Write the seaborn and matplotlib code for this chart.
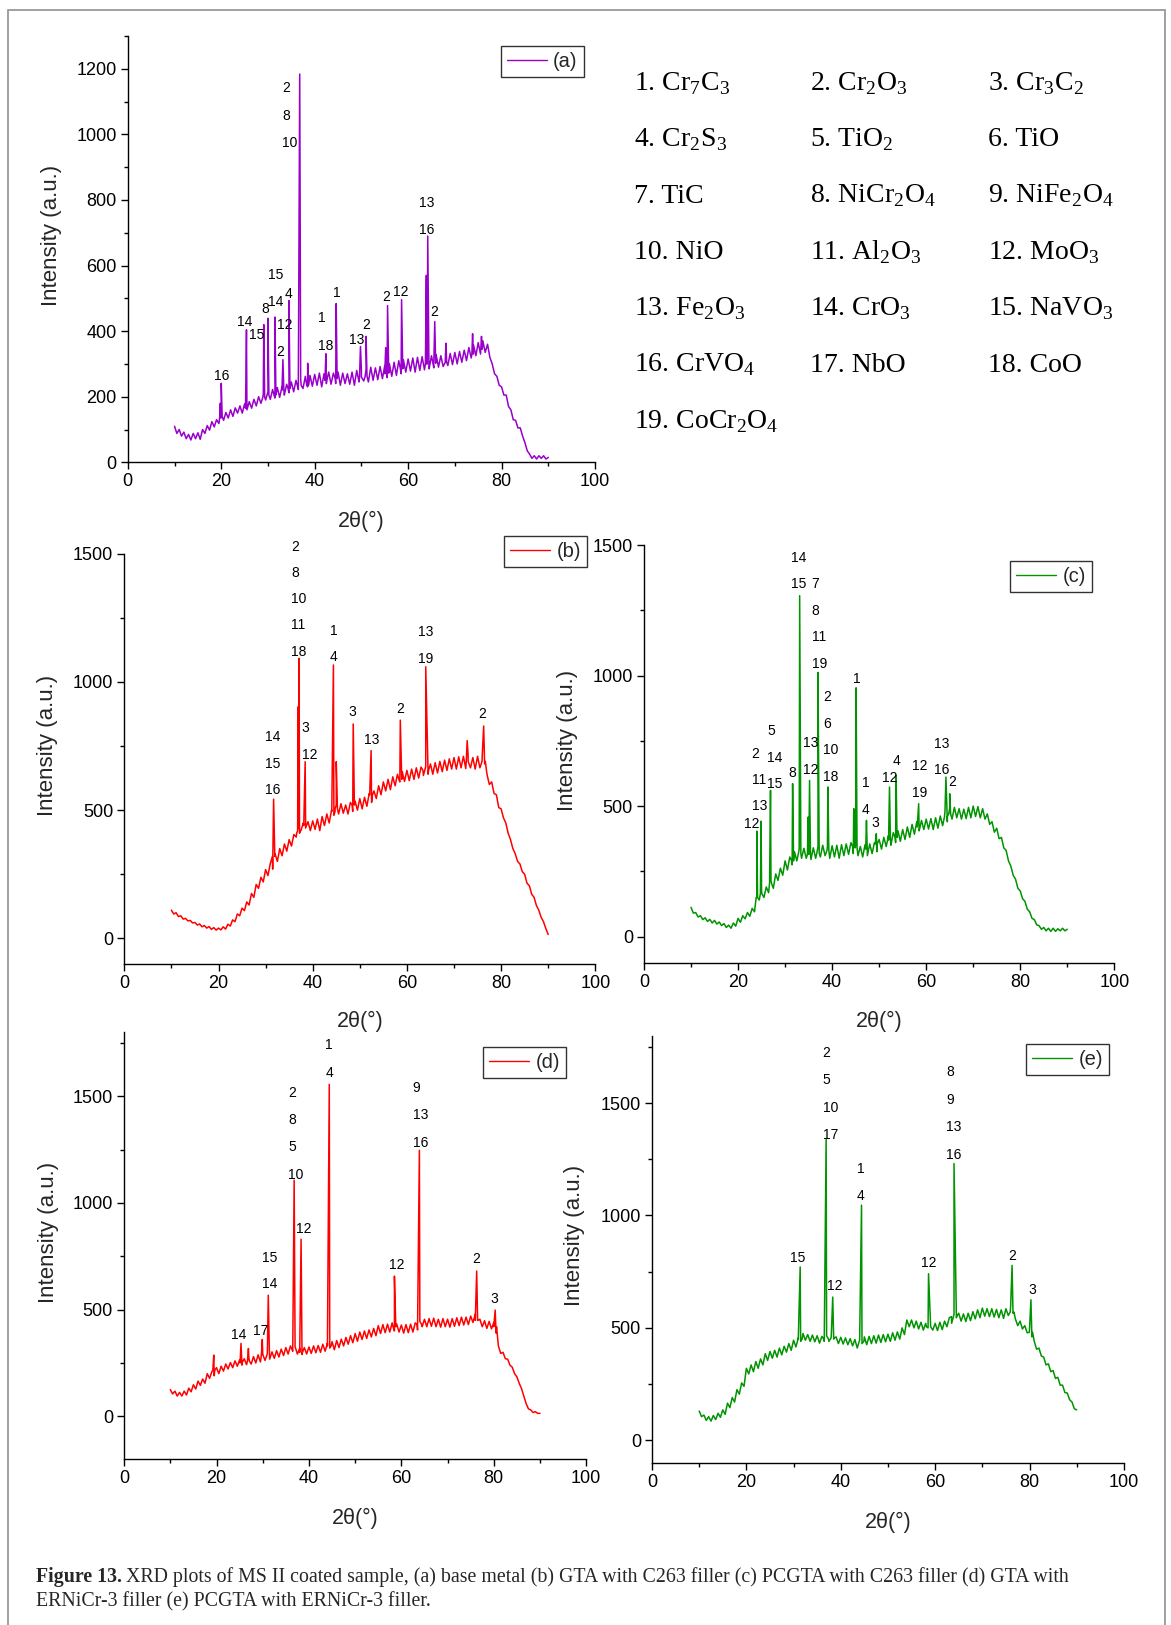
import numpy as np
import pandas as pd
import matplotlib
matplotlib.use("Agg")
import matplotlib.pyplot as plt
from matplotlib.ticker import MultipleLocator
from matplotlib.patches import Rectangle
import seaborn as sns

# ---------------- settings ----------------
sns.set_theme(style="ticks")
plt.rcParams['font.family'] = ['Liberation Sans', 'DejaVu Sans']
plt.rcParams['mathtext.fontset'] = 'custom'
plt.rcParams['mathtext.rm'] = 'Liberation Serif'
plt.rcParams['axes.edgecolor'] = 'black'
plt.rcParams['xtick.color'] = 'black'
plt.rcParams['ytick.color'] = 'black'

W, H = 1171, 1625

# ---------------- data ----------------
# 2theta grid of the measured background (step 0.5 deg)
two_theta = np.arange(10.0, 90.01, 0.5)

bg_a = [110, 88, 100, 80, 92, 72, 85, 68, 88, 72, 90, 70, 100, 88, 112, 98, 124, 108, 130, 118,
        150, 128, 152, 135, 160, 140, 166, 150, 172, 150, 178, 160, 185, 165, 192, 172, 200, 180, 208, 190,
        215, 192, 222, 196, 228, 198, 230, 205, 238, 212, 245, 215, 250, 222, 255, 225, 262, 230, 265, 232,
        268, 235, 272, 230, 270, 240, 275, 238, 272, 240, 275, 235, 272, 240, 270, 238, 275, 235, 280, 245,
        282, 248, 285, 245, 290, 250, 288, 252, 292, 255, 295, 258, 300, 262, 305, 265, 310, 270, 312, 275,
        315, 278, 318, 275, 320, 280, 322, 282, 320, 285, 325, 288, 328, 290, 325, 292, 330, 295, 332, 298,
        335, 300, 338, 305, 342, 310, 350, 318, 358, 325, 365, 330, 370, 335, 360, 320, 300, 270, 262, 235,
        230, 205, 205, 170, 160, 130, 128, 105, 105, 80, 60, 35, 25, 12, 20, 10, 20, 12, 20, 10, 15]
bg_b = [110, 95, 100, 85, 88, 75, 78, 68, 70, 60, 62, 52, 56, 45, 50, 40, 46, 35, 42, 32,
        40, 33, 45, 36, 55, 48, 72, 65, 95, 88, 118, 108, 142, 130, 175, 160, 210, 195, 238, 220,
        268, 245, 292, 270, 330, 300, 350, 322, 368, 340, 385, 360, 405, 395, 430, 420, 450, 430, 455, 420,
        458, 425, 465, 420, 475, 440, 485, 450, 500, 480, 520, 485, 525, 488, 520, 485, 530, 495, 535, 500,
        545, 505, 550, 515, 565, 530, 575, 545, 595, 560, 610, 575, 620, 580, 630, 595, 640, 610, 650, 612,
        655, 615, 660, 620, 665, 625, 668, 635, 670, 640, 680, 640, 685, 645, 690, 650, 695, 655, 700, 660,
        705, 660, 708, 665, 710, 662, 712, 665, 705, 660, 710, 665, 715, 680, 640, 600, 610, 565, 560, 510,
        505, 470, 450, 410, 385, 350, 330, 300, 290, 260, 250, 215, 205, 172, 160, 128, 110, 82, 65, 38, 15]
bg_c = [112, 90, 92, 75, 80, 65, 72, 58, 66, 52, 62, 48, 56, 42, 50, 35, 44, 32, 52, 40,
        70, 55, 80, 68, 92, 78, 108, 95, 150, 140, 175, 150, 190, 168, 215, 185, 240, 215, 262, 235,
        290, 255, 305, 275, 325, 290, 335, 300, 338, 300, 335, 295, 340, 300, 345, 305, 350, 310, 345, 300,
        348, 305, 350, 300, 352, 310, 355, 315, 360, 318, 350, 310, 345, 305, 352, 310, 355, 318, 360, 325,
        372, 335, 380, 345, 388, 350, 398, 360, 405, 365, 410, 372, 420, 380, 430, 392, 440, 405, 445, 410,
        450, 412, 452, 410, 455, 415, 462, 425, 480, 440, 492, 450, 495, 455, 490, 450, 488, 452, 495, 455,
        500, 460, 498, 455, 490, 450, 470, 430, 440, 400, 415, 375, 380, 340, 330, 290, 270, 235, 220, 185,
        175, 145, 135, 105, 95, 70, 65, 45, 42, 28, 35, 22, 32, 20, 32, 20, 30, 22, 32, 22, 28]
bg_d = [125, 105, 118, 95, 112, 95, 118, 100, 132, 115, 148, 128, 165, 145, 175, 155, 200, 178, 210, 190,
        228, 200, 235, 212, 245, 222, 252, 228, 260, 235, 265, 240, 270, 242, 275, 245, 280, 250, 288, 255,
        292, 262, 298, 268, 302, 272, 308, 278, 315, 285, 322, 292, 330, 305, 325, 292, 318, 290, 322, 292,
        325, 295, 330, 298, 332, 300, 338, 305, 342, 320, 350, 312, 355, 322, 362, 330, 370, 338, 378, 345,
        388, 352, 395, 360, 400, 365, 405, 372, 412, 378, 425, 388, 430, 392, 432, 395, 438, 400, 432, 395,
        428, 390, 430, 392, 432, 395, 438, 405, 445, 420, 455, 420, 458, 422, 460, 420, 455, 418, 458, 420,
        455, 418, 458, 422, 462, 425, 465, 428, 465, 430, 470, 440, 480, 450, 455, 420, 448, 412, 445, 410,
        440, 390, 330, 295, 300, 270, 268, 240, 230, 200, 185, 155, 130, 95, 60, 35, 30, 18, 22, 14, 14]
bg_e = [130, 105, 112, 88, 105, 85, 110, 92, 120, 102, 135, 115, 165, 145, 190, 170, 225, 205, 255, 240,
        320, 295, 335, 305, 350, 320, 362, 335, 385, 355, 395, 365, 400, 370, 410, 380, 418, 392, 430, 400,
        445, 415, 455, 440, 475, 445, 470, 440, 468, 438, 465, 432, 462, 440, 465, 440, 470, 450, 460, 430,
        458, 428, 455, 425, 452, 420, 448, 410, 445, 430, 460, 425, 462, 430, 465, 432, 468, 435, 470, 438,
        472, 440, 478, 445, 482, 450, 500, 470, 535, 505, 535, 500, 530, 495, 525, 490, 520, 500, 530, 490,
        520, 488, 525, 492, 530, 505, 545, 520, 560, 545, 565, 530, 562, 528, 565, 532, 572, 540, 580, 545,
        588, 552, 585, 550, 585, 548, 582, 545, 580, 542, 585, 555, 595, 565, 540, 510, 530, 495, 510, 478,
        495, 460, 440, 405, 410, 375, 370, 335, 340, 305, 310, 275, 280, 245, 245, 212, 210, 180, 170, 140, 135]

# peaks: position (deg), top intensity, base intensity, half width (deg)
pk_a_pos = [19.8, 20.0, 25.4, 29.1, 30.0, 31.5, 33.2, 34.5, 36.8, 38.5, 42.4, 44.6, 49.8, 51.0, 55.2, 55.6,
            58.6, 63.9, 64.2, 65.7, 68.1, 73.8, 75.7]
pk_a_top = [180, 241, 404, 420, 439, 443, 313, 493, 1184, 302, 331, 484, 353, 384, 350, 478,
            496, 570, 690, 429, 363, 392, 384]
pk_a_base = [135, 140, 165, 198, 205, 205, 220, 225, 235, 235, 250, 255, 260, 262, 270, 272,
             285, 300, 300, 302, 305, 330, 345]
pk_a_w = [0.15, 0.2, 0.2, 0.2, 0.2, 0.2, 0.2, 0.2, 0.3, 0.2, 0.2, 0.2, 0.2, 0.2, 0.2, 0.25,
          0.25, 0.2, 0.25, 0.2, 0.15, 0.15, 0.15]

pk_b_pos = [31.7, 36.9, 37.1, 38.4, 44.4, 45.0, 48.6, 52.4, 58.6, 64.0, 72.8, 76.3]
pk_b_top = [543, 903, 1092, 689, 1066, 689, 836, 732, 851, 1059, 771, 828]
pk_b_base = [320, 410, 420, 440, 495, 505, 520, 560, 620, 655, 690, 690]
pk_b_w = [0.25, 0.3, 0.3, 0.3, 0.35, 0.25, 0.25, 0.3, 0.3, 0.6, 0.2, 0.35]

pk_c_pos = [24.0, 24.9, 26.9, 31.6, 33.1, 34.9, 35.2, 37.0, 39.1, 44.6, 45.1, 47.3, 49.4, 52.2, 53.6,
            58.4, 64.2, 65.0]
pk_c_top = [404, 442, 560, 586, 1306, 458, 598, 1012, 573, 490, 953, 445, 394, 573, 618,
            509, 611, 547]
pk_c_base = [150, 165, 205, 290, 320, 315, 317, 320, 330, 343, 340, 335, 355, 370, 380,
             420, 460, 470]
pk_c_w = [0.15, 0.15, 0.2, 0.2, 0.25, 0.15, 0.2, 0.25, 0.2, 0.2, 0.2, 0.15, 0.2, 0.2, 0.2,
          0.3, 0.3, 0.2]

pk_d_pos = [19.4, 25.3, 26.9, 29.9, 31.2, 36.8, 38.3, 44.4, 58.5, 63.9, 76.3, 80.3]
pk_d_top = [287, 342, 318, 360, 568, 1107, 830, 1556, 657, 1247, 681, 498]
pk_d_base = [215, 250, 260, 285, 290, 320, 300, 330, 420, 430, 450, 420]
pk_d_w = [0.2, 0.2, 0.2, 0.2, 0.25, 0.3, 0.3, 0.4, 0.3, 0.5, 0.3, 0.3]

pk_e_pos = [31.4, 36.9, 38.3, 44.4, 58.6, 64.0, 76.3, 80.3]
pk_e_top = [771, 1343, 637, 1046, 741, 1231, 778, 625]
pk_e_base = [450, 450, 455, 440, 505, 550, 570, 480]
pk_e_w = [0.4, 0.5, 0.35, 0.5, 0.45, 0.55, 0.4, 0.35]

# phase number labels: x (deg), y (intensity), text
lab_a_x = [20.0, 25.0, 27.6, 29.4, 31.7, 31.7, 34.5, 33.6, 32.7, 33.9, 33.9, 34.6, 41.5, 42.4, 44.7,
           49.0, 51.0, 55.4, 58.5, 64.0, 64.0, 65.6]
lab_a_y = [262, 427, 387, 466, 488, 570, 513, 418, 335, 1140, 1056, 973, 439, 356, 516,
           374, 419, 504, 520, 790, 707, 457]
lab_a_txt = ["16", "14", "15", "8", "14", "15", "4", "12", "2", "2", "8", "10", "1", "18", "1",
             "13", "2", "2", "12", "13", "16", "2"]

lab_b_x = [31.6, 31.6, 31.6, 36.2, 36.2, 37.0, 37.0, 37.0, 38.5, 39.4, 44.5, 44.5, 48.5, 52.6, 58.6,
           63.9, 63.9, 75.9]
lab_b_y = [785, 681, 578, 1527, 1426, 1323, 1222, 1118, 820, 716, 1200, 1097, 881, 772, 893,
           1193, 1091, 873]
lab_b_txt = ["14", "15", "16", "2", "8", "10", "11", "18", "3", "12", "1", "4", "3", "13", "2",
             "13", "19", "2"]

lab_c_x = [23.0, 24.5, 24.5, 23.6, 27.8, 27.8, 27.0, 31.6, 32.8, 32.8, 36.4, 36.4, 37.3, 37.3, 35.5,
           35.5, 38.9, 38.9, 39.7, 39.7, 45.2, 47.2, 47.2, 49.1, 52.2, 53.6, 58.6, 58.6, 63.4, 63.4, 65.6]
lab_c_y = [432, 499, 601, 701, 583, 685, 788, 628, 1350, 1451, 1350, 1248, 1146, 1043, 742,
           639, 918, 816, 714, 611, 988, 588, 486, 435, 609, 673, 652, 550, 737, 637, 591]
lab_c_txt = ["12", "13", "11", "2", "15", "14", "5", "8", "15", "14", "7", "8", "11", "19", "13",
             "12", "2", "6", "10", "18", "1", "1", "4", "3", "12", "4", "12", "19", "13", "16", "2"]

lab_d_x = [24.8, 29.6, 31.4, 31.4, 36.3, 36.3, 36.3, 37.1, 38.8, 44.4, 44.4, 59.0, 63.3, 64.1, 64.1,
           76.2, 80.2]
lab_d_y = [381, 401, 618, 744, 1516, 1388, 1261, 1133, 876, 1739, 1609, 707, 1539, 1411, 1283,
           737, 551]
lab_d_txt = ["14", "17", "14", "15", "2", "8", "5", "10", "12", "1", "4", "12", "9", "13", "16",
             "2", "3"]

lab_e_x = [30.8, 37.0, 37.0, 37.8, 37.8, 38.8, 44.2, 44.2, 58.6, 63.2, 63.2, 64.0, 64.0, 76.4, 80.5]
lab_e_y = [812, 1724, 1601, 1479, 1357, 688, 1207, 1086, 789, 1637, 1516, 1395, 1271, 821, 667]
lab_e_txt = ["15", "2", "5", "10", "17", "12", "1", "4", "12", "8", "9", "13", "16", "2", "3"]

compounds = [
    "1. Cr$_\\mathrm{7}$C$_\\mathrm{3}$", "2. Cr$_\\mathrm{2}$O$_\\mathrm{3}$", "3. Cr$_\\mathrm{3}$C$_\\mathrm{2}$",
    "4. Cr$_\\mathrm{2}$S$_\\mathrm{3}$", "5. TiO$_\\mathrm{2}$", "6. TiO",
    "7. TiC", "8. NiCr$_\\mathrm{2}$O$_\\mathrm{4}$", "9. NiFe$_\\mathrm{2}$O$_\\mathrm{4}$",
    "10. NiO", "11. Al$_\\mathrm{2}$O$_\\mathrm{3}$", "12. MoO$_\\mathrm{3}$",
    "13. Fe$_\\mathrm{2}$O$_\\mathrm{3}$", "14. CrO$_\\mathrm{3}$", "15. NaVO$_\\mathrm{3}$",
    "16. CrVO$_\\mathrm{4}$", "17. NbO", "18. CoO",
    "19. CoCr$_\\mathrm{2}$O$_\\mathrm{4}$",
]

# ---------------- panel layout (pixels: left, top, right, bottom) ----------------
panels = [
    dict(name="(a)", bg=bg_a, pos=pk_a_pos, top=pk_a_top, base=pk_a_base, w=pk_a_w,
         lx=lab_a_x, ly=lab_a_y, lt=lab_a_txt, color="#9900CC",
         box=(127.8, 36, 595, 462.3), ylim=(0, 1300), ymaj=200, ymin=100, leg=(0.976, 0.977)),
    dict(name="(b)", bg=bg_b, pos=pk_b_pos, top=pk_b_top, base=pk_b_base, w=pk_b_w,
         lx=lab_b_x, ly=lab_b_y, lt=lab_b_txt, color="#FF0000",
         box=(124.3, 553.7, 595.3, 964), ylim=(-100, 1500), ymaj=500, ymin=250, leg=(0.982, 1.043)),
    dict(name="(c)", bg=bg_c, pos=pk_c_pos, top=pk_c_top, base=pk_c_base, w=pk_c_w,
         lx=lab_c_x, ly=lab_c_y, lt=lab_c_txt, color="#009400",
         box=(644, 545, 1114.3, 962.7), ylim=(-100, 1500), ymaj=500, ymin=250, leg=(0.952, 0.962)),
    dict(name="(d)", bg=bg_d, pos=pk_d_pos, top=pk_d_top, base=pk_d_base, w=pk_d_w,
         lx=lab_d_x, ly=lab_d_y, lt=lab_d_txt, color="#FF0000",
         box=(124.1, 1032.3, 586.2, 1459), ylim=(-200, 1800), ymaj=500, ymin=250, leg=(0.956, 0.9655)),
    dict(name="(e)", bg=bg_e, pos=pk_e_pos, top=pk_e_top, base=pk_e_base, w=pk_e_w,
         lx=lab_e_x, ly=lab_e_y, lt=lab_e_txt, color="#009400",
         box=(652, 1035.7, 1123.9, 1462.7), ylim=(-100, 1800), ymaj=500, ymin=250, leg=(0.968, 0.9806)),
]


def px_rect(l, t, r, b):
    return [l / W, 1 - b / H, (r - l) / W, (b - t) / H]


def build_pattern(bg, pos, top, base, w):
    xs = list(two_theta)
    ys = list(bg)
    for p, t, b, hw in zip(pos, top, base, w):
        xs += [p - hw, p, p + hw]
        ys += [b, t, b]
    df = pd.DataFrame({"two_theta": xs, "intensity": ys})
    return df.sort_values("two_theta", kind="stable").reset_index(drop=True)


fig = plt.figure(figsize=(W / 100, H / 100), dpi=100)

for pnl in panels:
    ax = fig.add_axes(px_rect(*pnl["box"]))
    df = build_pattern(pnl["bg"], pnl["pos"], pnl["top"], pnl["base"], pnl["w"])
    sns.lineplot(data=df, x="two_theta", y="intensity", sort=False, estimator=None,
                 color=pnl["color"], lw=1.1, ax=ax, label=pnl["name"])

    for x, y, s in zip(pnl["lx"], pnl["ly"], pnl["lt"]):
        ax.text(x, y, s, ha="center", va="center", fontsize=10, color="black", clip_on=False)

    ax.set_xlim(0, 100)
    ax.set_ylim(*pnl["ylim"])
    ax.xaxis.set_major_locator(MultipleLocator(20))
    ax.xaxis.set_minor_locator(MultipleLocator(10))
    ax.yaxis.set_major_locator(MultipleLocator(pnl["ymaj"]))
    ax.yaxis.set_minor_locator(MultipleLocator(pnl["ymin"]))
    ax.tick_params(which="major", direction="out", length=5, width=1, labelsize=13, pad=3)
    ax.tick_params(which="minor", direction="out", length=3, width=1)
    for side in ["top", "right"]:
        ax.spines[side].set_visible(False)
    for side in ["left", "bottom"]:
        ax.spines[side].set_linewidth(1)
        ax.spines[side].set_color("black")

    ax.set_xlabel("2θ(°)", fontsize=15.5)
    ax.set_ylabel("Intensity (a.u.)", fontsize=16)
    ax.xaxis.set_label_coords(0.5, -0.115)
    ax.yaxis.set_label_coords(-0.141, 0.532)

    leg = ax.legend(loc="upper right", bbox_to_anchor=pnl["leg"], borderaxespad=0,
                    fontsize=14.5, frameon=True, fancybox=False, edgecolor="black",
                    handlelength=2.0, handletextpad=0.3, borderpad=0.3)
    leg.get_frame().set_linewidth(1)
    for ln in leg.get_lines():
        ln.set_linewidth(1.0)

# phase list
col_x = [633.5, 809.5, 987.5]
row_base = [90, 146.3, 202.6, 258.9, 315.2, 371.5, 427.8]
for i, s in enumerate(compounds):
    fig.text(col_x[i % 3] / W, 1 - row_base[i // 3] / H, s, ha="left", va="baseline",
             fontsize=20, family="Liberation Serif", color="black")

# caption
fig.canvas.draw()
renderer = fig.canvas.get_renderer()
cap_fs = 14.3
t1 = fig.text(36 / W, 1 - 1582 / H, "Figure 13.", ha="left", va="baseline",
              fontsize=cap_fs, family="Liberation Serif", weight="bold")
bb = t1.get_window_extent(renderer)
fig.text(bb.x1 / W + 4 / W, 1 - 1582 / H,
         "XRD plots of MS II coated sample, (a) base metal (b) GTA with C263 filler (c) PCGTA with C263 filler (d) GTA with",
         ha="left", va="baseline", fontsize=cap_fs, family="Liberation Serif")
fig.text(36 / W, 1 - 1606 / H, "ERNiCr-3 filler (e) PCGTA with ERNiCr-3 filler.",
         ha="left", va="baseline", fontsize=cap_fs, family="Liberation Serif")

# page frame
fig.patches.append(Rectangle((8 / W, -0.01), (1165 - 8) / W, 1 - 10 / H + 0.01,
                             transform=fig.transFigure, fill=False,
                             edgecolor="#999999", lw=1.3))

fig.savefig("out.png", dpi=100)
